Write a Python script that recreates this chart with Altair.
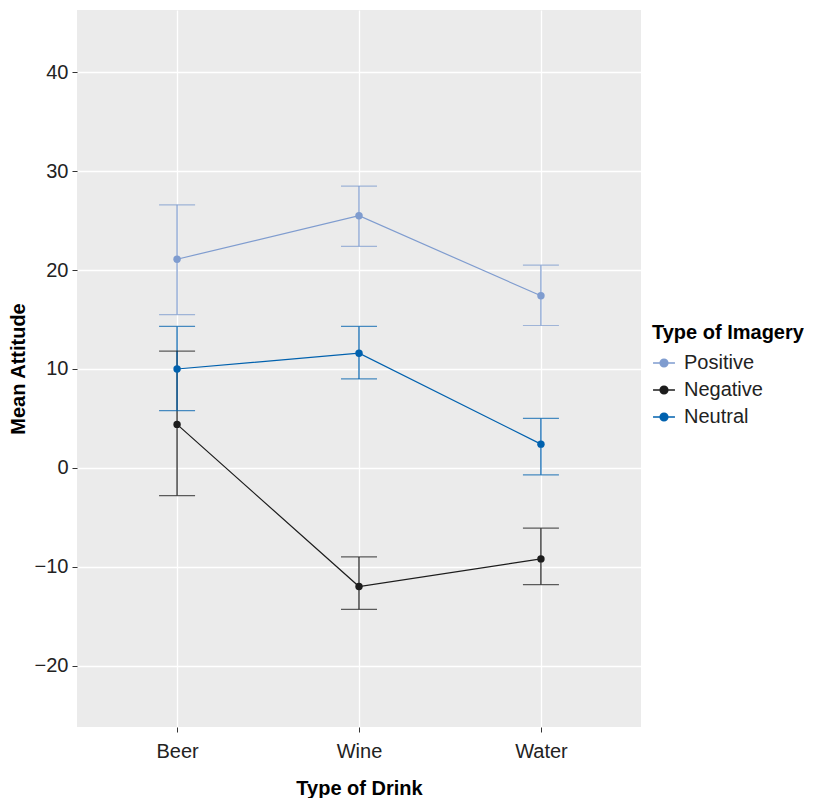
import altair as alt
import pandas as pd

drinks = ["Beer", "Wine", "Water"]
imagery = ["Positive", "Negative", "Neutral"]
means = {
    "Positive": [21.1, 25.5, 17.4],
    "Negative": [4.4, -12.0, -9.2],
    "Neutral": [10.0, 11.6, 2.4],
}
lows = {
    "Positive": [15.5, 22.4, 14.4],
    "Negative": [-2.8, -14.3, -11.8],
    "Neutral": [5.8, 9.0, -0.7],
}
highs = {
    "Positive": [26.6, 28.5, 20.5],
    "Negative": [11.8, -9.0, -6.1],
    "Neutral": [14.3, 14.3, 5.0],
}
colors = ["#7f9ccf", "#1c1c1c", "#0061ae"]
y_ticks = [-20, -10, 0, 10, 20, 30, 40]

rows = []
for g in imagery:
    for i, d in enumerate(drinks):
        rows.append({"drink": d, "imagery": g, "mean": means[g][i],
                     "lo": lows[g][i], "hi": highs[g][i]})
df = pd.DataFrame(rows)

FONT = "Liberation Sans"
xenc = alt.X("drink:N", sort=drinks,
             scale=alt.Scale(type="point", padding=0.55),
             axis=alt.Axis(title="Type of Drink", labelAngle=0))
yscale = alt.Scale(domain=[-26.2, 46.3], nice=False, zero=False)

sym = "M-1,0H1M0.36,0A0.36,0.36 0 1,1 -0.36,0A0.36,0.36 0 1,1 0.36,0Z"
color = alt.Color(
    "imagery:N", sort=imagery,
    scale=alt.Scale(domain=imagery, range=colors),
    legend=alt.Legend(
        title="Type of Imagery", orient="none",
        legendX=575, legendY=313,
        symbolType=sym, symbolSize=480,
        symbolStrokeWidth=1.3, symbolOpacity=1,
        titleFontSize=20, titleFontWeight="bold",
        titleColor="#000", titleFont=FONT,
        labelFontSize=20, labelFont=FONT, labelColor="#222",
        rowPadding=5, labelOffset=8, titlePadding=8,
    ))

base = alt.Chart(df)

rules = base.mark_rule(strokeWidth=1.2).encode(
    x=xenc,
    y=alt.Y("lo:Q", scale=yscale,
            axis=alt.Axis(title="Mean Attitude", values=y_ticks)),
    y2="hi:Q",
    color=color,
)
cap_lo = base.mark_tick(size=36, thickness=1.2).encode(
    x=xenc, y=alt.Y("lo:Q", scale=yscale), color=color)
cap_hi = base.mark_tick(size=36, thickness=1.2).encode(
    x=xenc, y=alt.Y("hi:Q", scale=yscale), color=color)
lines = base.mark_line(strokeWidth=1.2).encode(
    x=xenc, y=alt.Y("mean:Q", scale=yscale), color=color)
points = base.mark_point(filled=True, size=55, opacity=1).encode(
    x=xenc, y=alt.Y("mean:Q", scale=yscale), color=color)

chart = alt.layer(rules, cap_lo, cap_hi, lines, points).properties(
    width=564, height=717,
    padding={"top": 2, "left": 0, "right": 0, "bottom": 0}
).configure_view(
    fill="#ebebeb", stroke=None
).configure_axis(
    grid=True, gridColor="#ffffff", gridWidth=1.3,
    domain=False, tickColor="#333333", tickSize=5,
    labelFont=FONT, labelFontSize=20, labelColor="#222222", labelPadding=4,
    titleFont=FONT, titleFontSize=20, titleFontWeight="bold", titleColor="#000",
).configure_axisY(
    titlePadding=6
).configure_axisX(
    titlePadding=17, labelPadding=9
)

chart.save("out.html", embed_options={"renderer": "svg", "actions": False})
